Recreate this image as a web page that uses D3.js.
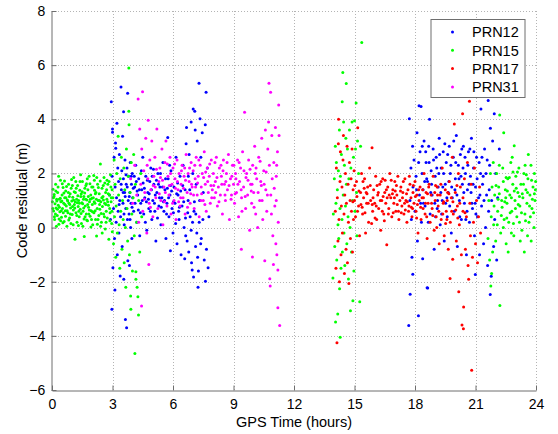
<!DOCTYPE html>
<html>
<head>
<meta charset="utf-8">
<script src="https://cdn.jsdelivr.net/npm/d3@7"></script>
<style>
  body { margin: 0; background: #fff; }
  text { font-family: "Liberation Sans", Arial, sans-serif; }
</style>
</head>
<body>
<svg id="plotSVG" width="558" height="434"></svg>
<script>
// series names and colours
const seriesNames = ["PRN12", "PRN15", "PRN17", "PRN31"];
const seriesColors = ["#0000ff", "#00ff00", "#ff0000", "#ff00ff"];

// tick labels
const xTicks = [0, 3, 6, 9, 12, 15, 18, 21, 24];
const yTicks = [-6, -4, -2, 0, 2, 4, 6, 8];

// [GPS time (h), code residual (m)]
const prn12 = [
  [2.85,1.2],[2.9,0.3],[2.94,4.65],[2.97,-3.02],[2.98,1.9],[3.0,3.64],[3.0,3.52],[3.02,-1.48],[3.05,0.7],[3.08,2.6],
  [3.1,-0.4],[3.12,-2.31],[3.13,1.5],[3.15,3.12],[3.16,2.93],[3.18,0.2],[3.2,1.1],[3.22,3.85],[3.24,-1.0],[3.26,2.2],
  [3.28,0.6],[3.3,1.7],[3.32,-0.2],[3.34,2.7],[3.36,1.0],[3.38,-1.79],[3.4,0.4],[3.42,5.19],[3.44,1.4],[3.46,2.1],
  [3.48,-0.7],[3.5,3.37],[3.52,0.9],[3.54,1.8],[3.55,4.28],[3.56,-1.91],[3.58,0.1],[3.6,1.3],[3.62,2.5],[3.64,-3.4],
  [3.66,0.7],[3.68,1.6],[3.7,-3.7],[3.72,2.2],[3.74,0.3],[3.75,4.96],[3.76,-1.23],[3.78,1.0],[3.8,1.9],[3.82,0.5],
  [3.84,-1.4],[3.86,1.3],[3.88,2.4],[3.9,0.0],[3.92,0.9],[3.94,1.6],[3.96,-0.4],[3.98,2.0],[4.0,1.1],[4.05,0.6],
  [4.1,1.5],[4.15,2.3],[4.2,0.2],[4.25,1.2],[4.3,1.8],[4.35,-0.3],[4.4,0.9],[4.45,1.4],[4.5,2.6],[4.55,0.5],
  [4.6,1.1],[4.65,1.9],[4.7,-0.1],[4.75,1.3],[4.8,0.7],[4.85,1.7],[4.9,2.2],[4.95,0.3],[5.0,1.0],[5.05,1.6],
  [5.1,0.6],[5.15,-0.5],[5.2,1.3],[5.25,2.0],[5.3,0.8],[5.35,1.5],[5.4,0.1],[5.45,1.1],[5.5,2.4],[5.55,0.6],
  [5.6,1.4],[5.65,-0.4],[5.7,0.9],[5.74,3.33],[5.76,1.8],[5.8,0.4],[5.85,1.2],[5.87,-0.86],[5.9,2.1],[5.95,0.7],
  [6.0,-0.2],[6.05,1.5],[6.1,0.9],[6.15,2.6],[6.2,-0.6],[6.25,1.2],[6.3,0.3],[6.35,1.9],[6.4,-1.0],[6.45,0.8],
  [6.5,2.3],[6.55,0.0],[6.58,-1.15],[6.6,1.4],[6.65,3.1],[6.67,3.7],[6.7,-0.5],[6.75,1.0],[6.78,-0.9],[6.8,2.7],
  [6.85,0.4],[6.9,3.9],[6.92,-1.3],[6.95,-1.57],[6.98,2.0],[7.0,4.38],[7.02,-1.83],[7.04,0.6],[7.08,4.3],[7.1,3.6],
  [7.12,-0.7],[7.15,1.6],[7.2,3.2],[7.22,-1.1],[7.24,-2.2],[7.26,-1.6],[7.29,5.33],[7.3,0.2],[7.34,4.02],[7.38,2.6],
  [7.4,-0.4],[7.45,3.5],[7.5,1.3],[7.55,-1.2],[7.61,-1.98],[7.64,5.0],[7.6,3.8],[7.66,-0.8],[7.7,2.2],[7.74,-1.48],
  [7.78,0.4],[3.53,1.3],[3.67,1.95],[3.83,1.15],[3.97,0.75],[4.08,1.9],[4.22,1.35],[4.38,0.55],[4.52,1.65],[4.68,0.95],
  [4.82,1.25],[4.97,1.9],[5.12,1.2],[5.28,1.6],[5.42,0.75],[5.58,1.0],[5.72,1.45],[5.88,1.55],[6.02,0.55],[6.18,1.25],
  [6.32,0.75],[6.48,1.55],[6.62,0.35],[6.76,1.9],[6.9,-0.1],[7.06,0.95],[7.18,-0.2],[7.32,1.0],[7.48,0.3],
  [3.33,0.85],[3.43,1.6],[3.57,0.5],[3.63,1.15],[3.73,1.5],[3.87,0.3],[3.93,1.9],[4.03,1.45],[4.12,0.9],[4.18,1.7],
  [4.28,0.65],[4.33,1.4],[4.43,2.1],[4.48,1.0],[4.58,1.45],[4.63,0.2],[4.73,1.75],[4.78,1.05],[4.88,0.6],[4.93,1.4],
  [5.03,2.15],[5.08,0.9],[5.18,1.75],[5.23,0.35],[5.33,1.1],[5.38,2.0],[5.48,1.5],[5.53,0.95],[5.63,1.8],[5.68,0.5],
  [5.78,1.1],[5.83,2.3],[5.93,1.35],[6.03,0.95],[6.13,0.15],[6.23,1.65],[6.28,0.6],[6.38,1.35],[6.53,0.95],[6.63,-0.3],
  [6.73,0.55],[6.83,1.4],[6.97,0.2],[7.13,0.5],[7.37,-0.6],
  [17.69,-3.62],[17.72,4.02],[17.75,1.0],[17.76,-2.46],[17.8,2.2],[17.82,0.3],[17.85,-1.1],[17.88,3.0],[17.89,-1.72],[17.9,1.5],
  [17.95,2.5],[18.0,0.6],[18.05,1.9],[18.1,3.5],[18.12,-0.5],[18.17,-3.26],[18.2,4.5],[18.22,1.2],[18.25,2.8],[18.3,4.47],
  [18.32,0.2],[18.35,2.0],[18.38,-1.15],[18.4,1.4],[18.45,3.2],[18.5,0.8],[18.55,2.4],[18.6,-2.22],[18.62,1.7],[18.63,-2.23],
  [18.68,3.0],[18.72,4.0],[18.75,0.5],[18.8,2.1],[18.85,1.2],[18.9,2.9],[18.95,-0.8],[19.0,1.9],[19.05,2.6],[19.1,0.7],
  [19.15,1.5],[19.2,3.3],[19.25,0.1],[19.3,2.2],[19.35,1.0],[19.4,2.8],[19.45,-0.5],[19.5,1.6],[19.55,2.4],[19.6,0.4],
  [19.65,1.3],[19.7,3.0],[19.75,2.0],[19.8,-0.2],[19.85,1.1],[19.9,2.6],[19.95,0.6],[20.0,1.8],[20.05,3.4],[20.1,-0.7],
  [20.15,2.3],[20.2,1.0],[20.25,2.7],[20.3,0.3],[20.35,1.6],[20.4,3.0],[20.45,0.9],[20.5,2.0],[20.55,-1.0],[20.6,1.4],
  [20.65,2.8],[20.7,0.2],[20.75,1.9],[20.8,3.3],[20.85,0.7],[20.9,2.2],[20.95,-0.3],[20.99,-1.73],[21.0,1.5],[21.05,2.6],
  [21.1,0.4],[21.15,1.1],[21.2,-1.0],[21.25,2.0],[21.27,4.38],[21.3,0.8],[21.35,1.6],[21.4,-0.6],[21.45,2.9],[21.5,0.0],
  [21.55,1.2],[21.6,-1.4],[21.63,4.69],[21.65,0.6],[21.7,2.3],[21.73,-2.47],[21.74,3.67],[21.78,-1.8],[21.8,1.0],[21.85,3.2],
  [21.9,-0.7],[21.93,4.2],[21.95,0.3],[22.0,2.0],[22.05,-1.2],[22.1,1.1],[22.18,2.9],
  [18.42,0.9],[18.58,1.8],[18.78,1.3],[18.98,0.9],[19.18,2.0],[19.38,1.5],[19.58,1.1],[19.78,2.3],[19.98,1.4],[20.18,1.8],
  [20.38,2.2],[20.58,0.6],[20.78,1.3],[20.98,0.9],[21.18,2.4],[21.38,1.9],[21.58,2.5],
  [18.08,1.4],[18.18,2.4],[18.28,0.9],[18.36,3.0],[18.48,1.7],[18.53,2.8],[18.66,0.2],[18.7,2.4],[18.82,1.6],[18.92,2.5],
  [19.02,0.4],[19.08,2.2],[19.12,1.0],[19.22,2.7],[19.28,1.3],[19.32,0.5],[19.42,2.0],[19.48,3.1],[19.52,0.9],[19.62,2.7],
  [19.68,1.7],[19.72,0.8],[19.82,1.5],[19.92,3.2],[20.02,2.4],[20.08,1.2],[20.22,0.4],[20.28,1.9],[20.32,2.9],[20.42,1.3],
  [20.48,2.6],[20.52,0.3],[20.62,2.3],[20.68,1.6],[20.72,2.9],[20.82,0.9],[20.88,1.6],[20.92,2.8],[21.02,0.5],[21.08,1.8],
  [21.22,1.2],[21.32,2.6],[21.42,1.0],[21.52,2.0],[21.68,1.4]
];

const prn15 = [
  [0.02,0.95],[0.05,1.42],[0.08,0.61],[0.1,1.15],[0.13,0.3],[0.15,0.88],[0.18,1.6],[0.2,0.72],[0.23,1.05],[0.26,0.45],
  [0.28,1.3],[0.31,0.82],[0.34,0.12],[0.36,1.05],[0.39,0.58],[0.42,1.75],[0.44,0.95],[0.47,0.38],[0.5,1.2],[0.52,0.7],
  [0.55,1.48],[0.58,0.9],[0.6,0.22],[0.63,1.1],[0.66,0.62],[0.68,1.35],[0.71,0.8],[0.74,0.05],[0.76,1.02],[0.79,0.55],
  [0.82,1.6],[0.84,0.9],[0.87,0.35],[0.9,1.25],[0.92,0.72],[0.95,1.45],[0.98,0.98],[1.0,0.48],[1.03,1.12],[1.06,0.65],
  [1.08,1.85],[1.11,0.85],[1.14,-0.43],[1.16,1.3],[1.19,0.55],[1.22,1.05],[1.24,0.2],[1.27,1.55],[1.3,0.78],[1.32,1.0],
  [1.35,0.4],[1.38,1.38],[1.4,0.68],[1.43,1.15],[1.46,0.15],[1.48,0.92],[1.51,1.7],[1.54,0.6],[1.56,1.05],[1.59,0.32],
  [1.6,-0.33],[1.62,1.28],[1.65,0.8],[1.68,1.55],[1.7,0.5],[1.73,1.02],[1.76,0.25],[1.78,1.4],[1.81,0.75],[1.84,1.9],
  [1.86,0.95],[1.89,0.42],[1.92,1.2],[1.94,0.62],[1.97,1.5],[2.0,0.85],[2.02,0.1],[2.05,1.1],[2.08,0.55],[2.1,1.75],
  [2.13,0.9],[2.16,0.3],[2.18,1.3],[2.21,-0.31],[2.24,0.7],[2.26,1.6],[2.29,1.0],[2.32,0.45],[2.34,1.25],[2.37,0.68],
  [2.4,2.35],[2.42,0.95],[2.45,0.2],[2.48,1.45],[2.5,0.78],[2.53,1.15],[2.56,0.5],[2.58,1.85],[2.61,0.9],[2.64,-0.05],
  [2.66,1.3],[2.69,0.6],[2.72,1.05],[2.74,0.35],[2.77,1.6],[2.8,0.82],[2.82,-0.43],[2.85,1.2],[2.88,0.55],[2.9,1.95],
  [2.93,0.95],[2.96,0.15],[2.98,1.4],
  [0.04,0.7],[0.11,1.22],[0.17,0.5],[0.24,0.98],[0.3,1.5],[0.37,0.75],[0.43,0.25],[0.49,0.98],[0.56,0.55],[0.62,1.72],
  [0.69,1.1],[0.75,0.62],[0.81,1.3],[0.88,0.85],[0.94,0.15],[1.01,1.55],[1.07,1.02],[1.13,0.72],[1.2,1.45],[1.26,0.92],
  [1.33,0.6],[1.39,1.7],[1.45,1.25],[1.52,0.88],[1.58,1.15],[1.64,0.4],[1.71,1.62],[1.77,0.85],[1.83,0.5],[1.9,1.05],
  [1.96,0.3],[2.03,1.5],[2.09,0.95],[2.15,1.25],[2.22,1.85],[2.28,0.3],[2.35,1.0],[2.41,0.05],[2.47,1.1],[2.54,1.55],
  [2.6,0.4],[2.67,0.85],[2.73,1.75],[2.79,1.25],[2.86,0.7],[2.92,1.5],[2.97,0.6],
  [0.07,1.1],[0.12,0.4],[0.19,1.35],[0.22,0.05],[0.27,0.68],[0.33,1.9],[0.35,0.32],[0.41,1.08],[0.46,0.62],[0.51,1.62],
  [0.54,0.18],[0.59,1.28],[0.64,0.85],[0.67,0.42],[0.72,1.52],[0.78,0.98],[0.83,0.28],[0.86,1.15],[0.91,0.5],[0.97,1.78],
  [1.02,0.78],[1.05,0.1],[1.1,1.32],[1.15,0.95],[1.18,1.7],[1.23,0.45],[1.28,1.18],[1.31,0.08],[1.36,0.9],[1.42,1.95],
  [1.44,0.52],[1.5,1.32],[1.53,0.05],[1.57,0.72],[1.63,1.45],[1.67,1.05],[1.72,0.28],[1.75,1.8],[1.8,1.15],[1.85,0.65],
  [1.88,1.62],[1.93,0.02],[1.98,1.08],[2.01,0.58],[2.07,1.92],[2.11,1.38],[2.14,0.62],[2.2,1.05],[2.25,0.12],[2.3,1.48],
  [2.36,0.85],[2.39,1.72],[2.44,0.52],[2.49,-0.2],[2.55,1.02],[2.62,1.65],[2.68,0.2],[2.71,1.4],[2.76,0.95],[2.83,1.7],
  [2.87,0.25],[2.94,1.1],[2.99,-0.15],
  [3.02,1.1],[3.05,-0.6],[3.08,2.5],[3.1,0.4],[3.13,1.6],[3.16,-1.1],[3.18,0.8],[3.21,2.0],[3.24,-0.2],[3.28,3.37],
  [3.3,1.2],[3.33,0.1],[3.36,-1.5],[3.38,1.8],[3.41,0.6],[3.44,2.6],[3.47,-0.8],[3.5,1.0],[3.53,0.3],[3.56,2.2],
  [3.58,-1.3],[3.61,1.4],[3.64,0.0],[3.66,-2.2],[3.69,2.9],[3.72,0.7],[3.75,-0.5],[3.78,1.9],[3.81,5.89],[3.81,4.3],
  [3.82,3.8],[3.84,-1.0],[3.87,1.3],[3.9,-2.53],[3.91,-3.02],[3.93,2.4],[3.96,0.5],[3.99,-1.6],[4.02,1.1],[4.05,2.7],
  [4.08,-0.3],[4.11,-4.65],[4.14,1.6],[4.16,-1.63],[4.16,-1.91],[4.2,0.2],[4.22,-2.2],[4.26,-2.56],[4.29,-3.23],[4.3,1.0],
  [4.35,-0.9],[4.4,2.0],[4.45,0.4],
  [13.93,-1.86],[13.95,0.5],[14.0,1.8],[14.02,-0.7],[14.05,3.0],[14.06,-3.49],[14.08,0.9],[14.1,2.4],[14.12,-1.2],[14.15,1.4],
  [14.17,-3.19],[14.18,0.1],[14.2,2.1],[14.22,-0.4],[14.25,3.6],[14.26,-2.26],[14.28,0.7],[14.29,-4.05],[14.3,1.9],[14.33,-1.5],
  [14.35,2.7],[14.38,0.3],[14.39,4.65],[14.4,-0.9],[14.42,5.73],[14.44,1.2],[14.46,3.9],[14.48,-0.2],[14.5,2.3],[14.52,-1.4],
  [14.55,0.8],[14.57,3.3],[14.59,5.32],[14.6,1.6],[14.62,-0.6],[14.65,2.9],[14.68,0.4],[14.7,-1.9],[14.72,1.8],[14.75,3.6],
  [14.78,0.0],[14.8,-3.07],[14.82,2.2],[14.85,-0.9],[14.88,3.9],[14.9,1.0],[14.92,-2.7],[14.95,2.6],[14.97,-1.6],[15.0,3.95],
  [15.02,0.6],[15.05,2.9],[15.08,4.6],[15.1,1.3],[15.12,-0.3],[15.15,3.2],[15.2,2.0],[15.26,-2.74],[15.3,3.0],[15.36,6.84],
  [21.62,-0.4],[21.66,1.0],[21.7,-1.2],[21.74,2.0],[21.76,-2.16],[21.78,0.4],[21.8,-1.7],[21.82,1.5],[21.85,-0.9],[21.88,2.4],
  [21.9,0.1],[21.95,1.2],[22.0,-0.5],[22.05,2.0],[22.1,0.6],[22.15,1.5],[22.2,4.16],[22.21,-2.88],[22.25,-0.2],[22.3,1.0],
  [22.35,2.2],[22.4,3.5],[22.42,0.3],[22.48,1.4],[22.52,-0.6],[22.56,0.9],[22.6,1.8],[22.65,0.2],[22.7,1.2],[22.75,2.4],
  [22.8,0.6],[22.85,1.6],[22.9,-0.3],[22.92,3.02],[22.96,1.0],[23.0,1.9],[23.05,0.4],[23.1,1.3],[23.15,2.2],[23.2,0.8],
  [23.25,1.6],[23.3,-0.1],[23.35,1.1],[23.4,2.0],[23.45,0.5],[23.5,1.4],[23.55,0.9],[23.6,1.8],[23.65,0.2],[23.7,1.2],
  [23.75,2.3],[23.8,0.7],[23.85,1.5],[23.9,0.0],[23.95,1.0],[23.98,1.7],[22.12,1.05],[22.32,0.75],[22.52,1.85],[22.72,0.55],
  [22.92,1.35],[23.12,0.85],[23.32,1.25],[23.52,1.95],[23.72,0.4],[23.92,1.25],[22.62,-0.9],[22.82,2.6],[23.22,-0.5],[23.62,2.7],
  [23.42,-0.9],
  [21.92,0.8],[22.02,1.55],[22.08,0.1],[22.18,1.25],[22.28,0.45],[22.38,1.7],[22.45,0.95],[22.55,0.35],[22.58,1.35],[22.68,1.85],
  [22.78,1.1],[22.88,0.15],[22.98,0.7],[23.02,1.45],[23.08,2.05],[23.18,1.15],[23.28,0.55],[23.38,1.6],[23.48,0.25],[23.58,1.3],
  [23.68,0.8],[23.78,1.75],[23.88,0.55],[23.97,1.4],[23.82,1.05],[23.58,-0.3],[23.18,0.2],[22.78,-0.2],[22.38,0.0],[22.18,2.3],
  [22.86,2.05],[23.46,2.3],[23.92,2.0],[23.76,-0.5],[22.5,1.1]
];

const prn17 = [
  [14.05,0.6],[14.08,-1.5],[14.1,2.2],[14.13,-4.25],[14.15,1.1],[14.18,-0.5],[14.2,3.1],[14.21,4.0],[14.23,0.3],[14.25,-2.0],
  [14.28,1.7],[14.3,2.8],[14.33,-1.0],[14.35,0.8],[14.38,1.5],[14.4,-0.2],[14.43,2.5],[14.45,3.4],[14.48,0.5],[14.5,-1.7],
  [14.52,1.2],[14.55,2.0],[14.58,-0.8],[14.6,0.9],[14.63,3.0],[14.65,-1.3],[14.68,1.6],[14.7,0.2],[14.72,-2.07],[14.75,2.4],
  [14.78,1.0],[14.8,-0.4],[14.83,1.8],[14.85,0.6],[14.88,2.9],[14.9,-0.9],[14.93,1.4],[14.95,0.3],[14.98,2.1],[15.0,1.0],
  [15.05,0.4],[15.1,1.7],[15.16,3.69],[15.2,0.8],[15.25,-0.3],[15.3,1.3],[15.35,2.0],[15.4,0.5],[15.45,1.1],[15.5,1.8],
  [15.55,-0.2],[15.6,0.9],[15.65,1.5],[15.7,0.2],[15.75,2.2],[15.8,1.0],[15.87,2.95],[15.9,0.6],[15.95,1.4],[16.0,0.9],
  [16.05,1.9],[16.1,0.3],[16.15,1.2],[16.2,0.7],[16.25,1.6],[16.3,-0.1],[16.35,1.0],[16.4,1.8],[16.45,0.5],[16.5,1.3],
  [16.55,0.9],[16.6,-0.63],[16.65,1.5],[16.7,0.7],[16.75,2.0],[16.8,1.1],[16.85,0.4],[16.9,1.4],[16.95,0.9],[17.0,1.7],
  [17.05,0.6],[17.1,1.2],[17.15,1.9],[17.2,0.3],[17.25,1.0],[17.3,1.5],[17.35,0.8],[17.4,1.3],[17.45,0.5],[17.5,1.8],
  [17.55,1.0],[17.6,0.2],[17.65,1.4],[17.7,0.8],[17.75,1.6],[17.8,1.1],[17.85,0.4],[17.9,1.3],[17.95,0.9],[18.0,1.7],
  [18.05,0.6],[18.1,1.2],[18.15,-0.2],[18.2,1.0],[18.25,1.5],[18.3,0.3],[18.35,1.1],[18.4,0.7],[18.45,2.0],[18.5,0.5],
  [18.55,1.3],[18.6,-0.4],[18.65,0.9],[18.7,1.6],[18.75,0.2],[18.8,1.2],[18.85,0.7],[18.9,1.9],[18.95,-0.1],[19.0,1.0],
  [19.05,0.4],[19.1,1.5],[19.15,0.8],[19.2,-0.6],[19.25,1.2],[19.3,0.3],[19.35,2.2],[19.4,0.9],[19.45,-0.3],[19.5,1.4],
  [19.55,0.6],[19.6,1.0],[19.65,-0.8],[19.7,1.7],[19.74,-1.88],[19.75,0.2],[19.8,1.1],[19.85,2.6],[19.87,-1.17],[19.9,0.5],
  [19.95,3.83],[20.0,1.3],[20.05,-0.5],[20.1,0.8],[20.15,2.0],[20.17,-2.37],[20.2,0.1],[20.25,1.5],[20.3,-1.0],[20.33,-3.6],
  [20.36,4.2],[20.38,0.6],[20.4,-3.74],[20.41,-2.93],[20.45,1.8],[20.5,-0.8],[20.55,0.4],[20.6,2.4],[20.63,-1.4],[20.66,-1.91],
  [20.7,4.67],[20.72,0.9],[20.75,-0.3],[20.78,1.6],[20.81,-5.27],[20.85,-1.1],[20.9,0.2],[20.95,2.2],[21.0,-0.6],[21.05,1.0],
  [21.1,-1.3],[21.15,0.4],[21.2,1.5],[21.25,-0.2],
  [15.12,1.15],[15.38,0.75],[15.62,1.25],[15.88,0.85],[16.12,1.55],[16.38,0.6],[16.62,1.1],[16.88,1.25],[17.12,0.85],[17.38,1.1],
  [17.62,0.95],[17.88,0.7],[18.12,0.85],[18.38,1.4],[18.62,1.25],[18.88,0.45],[19.12,1.2],[19.38,0.5],[19.62,1.3],[19.88,0.95],
  [20.12,0.35],[20.38,1.1],[15.48,1.45],[16.02,0.35],[16.52,1.75],[17.02,1.35],[17.52,0.65],[18.02,1.15],[18.52,0.9],[19.02,1.55],
  [19.52,0.15],[20.02,0.65],
  [14.92,0.95],[15.02,1.55],[15.15,0.6],[15.22,1.35],[15.32,0.85],[15.42,1.7],[15.52,0.55],[15.58,1.3],[15.68,0.9],[15.78,1.55],
  [15.85,0.15],[15.92,1.1],[16.08,0.8],[16.18,1.3],[16.28,1.0],[16.32,1.7],[16.42,1.15],[16.48,0.25],[16.58,1.4],[16.68,0.5],
  [16.72,1.2],[16.82,1.75],[16.92,0.55],[16.98,1.1],[17.08,1.55],[17.18,0.6],[17.28,1.35],[17.32,0.55],[17.42,1.7],[17.48,0.9],
  [17.58,1.25],[17.68,0.6],[17.72,1.9],[17.82,0.75],[17.92,1.55],[18.08,0.35],[18.18,1.4],[18.28,0.75],[18.42,1.1],[18.58,0.4],
  [18.68,1.5],[18.82,0.9],[18.98,1.3],[19.08,0.0],[19.18,0.6],[19.28,1.6],[19.42,0.95],[19.58,0.3],[19.68,1.25],[19.82,0.6],
  [20.08,1.55],[20.22,0.9],[20.48,0.55]
];

const prn31 = [
  [3.9,1.8],[4.0,0.9],[4.1,2.3],[4.2,1.2],[4.27,4.75],[4.3,0.2],[4.35,3.64],[4.4,1.6],[4.44,-2.9],[4.45,2.9],
  [4.49,5.02],[4.5,0.6],[4.55,2.1],[4.6,1.3],[4.65,3.3],[4.7,-0.2],[4.75,1.8],[4.77,3.96],[4.8,-1.36],[4.82,0.9],
  [4.85,2.5],[4.9,1.4],[4.95,3.2],[5.0,0.4],[5.05,1.9],[5.1,2.6],[5.15,1.1],[5.2,3.64],[5.25,0.7],[5.3,1.7],
  [5.35,2.2],[5.4,1.0],[5.45,2.9],[5.5,0.1],[5.55,1.5],[5.6,2.4],[5.65,3.2],[5.7,0.8],[5.75,1.9],[5.8,1.2],
  [5.85,2.6],[5.9,0.5],[5.95,1.6],[6.0,2.2],[6.05,1.0],[6.1,1.8],[6.15,0.3],[6.2,2.5],[6.25,1.4],[6.3,2.0],
  [6.35,0.8],[6.4,1.6],[6.45,2.3],[6.5,1.1],[6.55,1.9],[6.6,0.5],[6.65,2.7],[6.7,1.3],[6.75,2.0],[6.8,1.7],
  [6.85,0.9],[6.9,2.4],[6.95,1.5],[7.0,2.1],[7.05,0.7],[7.1,1.8],[7.15,2.6],[7.2,1.2],[7.25,1.9],[7.3,0.4],
  [7.35,2.3],[7.4,1.5],[7.45,2.0],[7.5,1.0],[7.55,2.8],[7.6,1.6],[7.65,0.6],[7.7,2.2],[7.75,1.3],[7.8,1.9],
  [7.85,0.9],[7.9,2.5],[7.95,1.4],[8.0,2.0],[8.05,1.1],[8.1,1.7],[8.15,2.6],[8.2,0.8],[8.25,1.5],[8.3,2.2],
  [8.35,1.2],[8.4,1.9],[8.45,0.5],[8.5,2.5],[8.55,1.6],[8.6,1.0],[8.65,2.0],[8.7,1.4],[8.75,2.7],[8.8,0.3],
  [8.85,1.8],[8.9,1.2],[8.95,2.3],[9.0,1.6],[9.05,0.9],[9.1,2.0],[9.15,1.3],[9.2,2.5],[9.25,0.4],[9.3,1.7],
  [9.35,2.2],[9.39,-0.8],[9.4,1.1],[9.45,2.8],[9.5,1.5],[9.55,4.26],[9.6,0.7],[9.65,2.0],[9.7,1.2],[9.75,2.5],
  [9.8,-0.1],[9.85,1.6],[9.9,0.9],[9.94,-1.09],[9.95,2.3],[10.0,1.3],[10.05,3.0],[10.1,0.5],[10.15,1.8],[10.2,0.0],
  [10.25,2.6],[10.3,1.0],[10.35,1.7],[10.4,3.3],[10.45,0.3],[10.5,2.1],[10.55,-1.23],[10.58,3.6],[10.6,1.4],[10.65,0.6],
  [10.7,2.9],[10.74,3.9],[10.76,5.33],[10.8,-1.89],[10.82,-2.16],[10.84,5.0],[10.85,1.2],[10.9,3.4],[10.95,-0.3],[10.98,-1.36],
  [11.0,2.4],[11.05,0.8],[11.08,3.7],[11.1,-0.6],[11.12,1.9],[11.15,-1.0],[11.18,2.8],[11.2,-1.57],[11.2,-2.96],[11.22,0.2],
  [11.24,4.53],[11.26,3.4],[11.29,-3.62],
  [5.12,1.5],[5.38,1.85],[5.62,1.3],[5.88,2.0],[6.12,1.45],[6.38,1.1],[6.62,1.75],[6.88,1.25],[7.12,1.5],[7.38,1.0],
  [7.62,2.05],[7.88,1.55],[8.12,1.3],[8.38,2.3],[8.62,1.7],[8.88,1.05],[9.12,1.8],[9.38,1.4],[9.62,1.85],[9.88,1.35],
  [10.12,2.2],[10.38,1.55],[10.62,2.05],[10.88,0.5],[11.12,1.0],
  [4.58,1.05],[4.72,2.3],[4.88,0.75],[5.02,1.55],[5.18,2.15],[5.32,1.25],[5.48,1.75],[5.58,0.95],[5.72,2.35],[5.82,1.55],
  [5.98,0.9],[6.08,2.35],[6.22,1.7],[6.28,0.95],[6.42,2.1],[6.52,1.45],[6.58,2.2],[6.72,0.75],[6.82,2.2],[6.92,1.6],
  [7.02,1.2],[7.08,2.3],[7.22,1.65],[7.28,2.5],[7.42,1.25],[7.52,1.85],[7.58,0.85],[7.72,1.7],[7.82,2.35],[7.92,1.1],
  [8.02,1.55],[8.08,2.4],[8.18,1.85],[8.28,0.95],[8.42,1.6],[8.48,2.1],[8.58,1.2],[8.68,2.4],[8.78,1.55],[8.92,1.9],
  [9.02,2.3],[9.08,1.25],[9.22,1.6],[9.28,2.4],[9.42,0.6],[9.52,2.1],[9.58,1.15],[9.72,1.75],[9.82,2.15],[9.92,1.6],
  [10.02,0.75],[10.08,2.0],[10.22,1.3],[10.32,2.45],[10.42,1.0],[10.52,1.6],[10.68,1.2],[10.78,2.3],[10.92,1.8],[11.02,1.45],
  [11.14,2.3]
];

const allSeries = [prn12, prn15, prn17, prn31];

// plot area
const plotLeft = 52, plotRight = 536, plotTop = 11, plotBottom = 390;

const svgPlot = d3.select("#plotSVG");
svgPlot.append("rect").attr("width", 558).attr("height", 434).attr("fill", "#fff");

const xScale = d3.scaleLinear().domain([0, 24]).range([plotLeft, plotRight]);
const yScale = d3.scaleLinear().domain([-6, 8]).range([plotBottom, plotTop]);

// dotted grid
const gridGrp = svgPlot.append("g")
    .attr("stroke", "#b4b4b4")
    .attr("stroke-width", 1)
    .attr("stroke-dasharray", "1,2");
gridGrp.selectAll(".vgrid")
    .data(xTicks.slice(1))
    .enter()
    .append("line")
    .attr("x1", d => Math.round(xScale(d)) + 0.5)
    .attr("x2", d => Math.round(xScale(d)) + 0.5)
    .attr("y1", plotTop)
    .attr("y2", plotBottom);
gridGrp.selectAll(".hgrid")
    .data(yTicks.slice(1))
    .enter()
    .append("line")
    .attr("x1", plotLeft)
    .attr("x2", plotRight)
    .attr("y1", d => Math.round(yScale(d)) + 0.5)
    .attr("y2", d => Math.round(yScale(d)) + 0.5);

// data points
seriesNames.forEach((name, i) => {
    svgPlot.append("g")
        .selectAll("circle")
        .data(allSeries[i])
        .enter()
        .append("circle")
        .attr("cx", d => xScale(d[0]))
        .attr("cy", d => yScale(d[1]))
        .attr("r", 1.5)
        .attr("fill", seriesColors[i]);
});

// axes, ticks pointing inward like matlab
const xAxis = d3.axisBottom(xScale).tickValues(xTicks).tickSize(-5).tickPadding(9).tickSizeOuter(0);
const yAxis = d3.axisLeft(yScale).tickValues(yTicks).tickSize(-5).tickPadding(9).tickSizeOuter(0);

const xg = svgPlot.append("g")
    .attr("transform", "translate(0," + (plotBottom + 0.5) + ")")
    .call(xAxis);
const yg = svgPlot.append("g")
    .attr("transform", "translate(" + (plotLeft - 0.5) + ",0)")
    .call(yAxis);

[xg, yg].forEach(g => {
    g.select(".domain").attr("stroke", "#6e6e6e");
    g.selectAll(".tick line").attr("stroke", "#6e6e6e");
    g.selectAll(".tick text")
        .attr("fill", "#000")
        .style("font-size", "14px")
        .style("font-family", "'Liberation Sans', Arial, sans-serif");
});
yg.selectAll(".tick text").attr("dx", "0.2em");

// axis titles
svgPlot.append("text")
    .attr("x", (plotLeft + plotRight) / 2)
    .attr("y", 427)
    .attr("text-anchor", "middle")
    .style("font-size", "14.5px")
    .text("GPS Time (hours)");

svgPlot.append("text")
    .attr("transform", "translate(27," + ((plotTop + plotBottom) / 2) + ") rotate(-90)")
    .attr("text-anchor", "middle")
    .style("font-size", "14.5px")
    .text("Code residual (m)");

// legend
const legGrp = svgPlot.append("g").attr("transform", "translate(431,19.5)");
legGrp.append("rect")
    .attr("width", 94)
    .attr("height", 78)
    .attr("fill", "#fff")
    .attr("stroke", "#6e6e6e");
legGrp.selectAll(".legendDot")
    .data(seriesNames)
    .enter()
    .append("circle")
    .attr("cx", 21.5)
    .attr("cy", (d, i) => 12.5 + i * 18.3)
    .attr("r", 1.5)
    .attr("fill", (d, i) => seriesColors[i]);
legGrp.selectAll(".legendLabel")
    .data(seriesNames)
    .enter()
    .append("text")
    .attr("x", 41)
    .attr("y", (d, i) => 12.5 + i * 18.3)
    .attr("dy", "0.36em")
    .style("font-size", "14.5px")
    .text(d => d);
</script>
</body>
</html>
